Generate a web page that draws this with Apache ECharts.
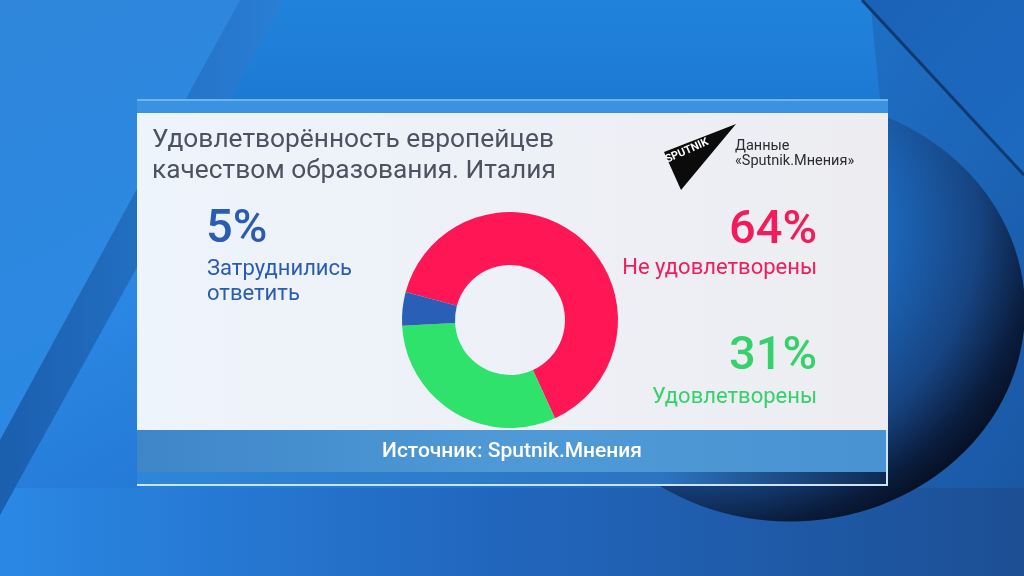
<!DOCTYPE html>
<html>
<head>
<meta charset="utf-8">
<script src="https://cdn.jsdelivr.net/npm/echarts@6/dist/echarts.min.js"></script>
<style>
html,body{margin:0;padding:0;background:#1b6cc8;}
#chart{width:1024px;height:576px;}
</style>
</head>
<body>
<div id="chart"></div>
<script>
// ---- data ----
const categories = ['Не удовлетворены', 'Удовлетворены', 'Затруднились ответить'];
const values = [64, 31, 5];
const titleLines = ['Удовлетворённость европейцев', 'качеством образования. Италия'];
const sourceText = 'Источник: Sputnik.Мнения';
const logoLines = ['Данные', '«Sputnik.Мнения»'];

// ---- styles ----
const sliceColors = ['#ff1755', '#2ee26b', '#2a5fb8'];
const textColors = ['#f31c5a', '#35d26b', '#2a5cb5'];

const chart = echarts.init(document.getElementById('chart'), null, {renderer: 'canvas'});
const F = 'Roboto, "Noto Sans", sans-serif';

const graphics = [
  // background base
  {type: 'rect', shape: {x: 0, y: 0, width: 1024, height: 576}, z: -10,
   style: {fill: new echarts.graphic.LinearGradient(0, 0, 1, 1, [
     {offset: 0, color: '#2a8de8'}, {offset: 0.5, color: '#1f7ad6'}, {offset: 1, color: '#1a55a0'}])}},
  // upper middle area
  {type: 'polygon', shape: {points: [[285, 0], [870, 0], [880, 100], [130, 100], [180, 60]]}, z: -9,
   style: {fill: new echarts.graphic.LinearGradient(0, 0, 0, 1, [
     {offset: 0, color: '#2082dc'}, {offset: 1, color: '#1d7ad4'}])}},
  // left bright area
  {type: 'polygon', shape: {points: [[0, 0], [240, 0], [0, 440]]}, z: -9,
   style: {fill: new echarts.graphic.LinearGradient(0, 0, 1, 1, [
     {offset: 0, color: '#2f86da'}, {offset: 1, color: '#2a8ae6'}])}},
  // bottom area
  {type: 'rect', shape: {x: 0, y: 488, width: 1024, height: 88}, z: -9,
   style: {fill: new echarts.graphic.LinearGradient(0, 0, 1, 0, [
     {offset: 0, color: '#2a88e4'}, {offset: 0.45, color: '#2268c0'}, {offset: 1, color: '#1c4f94'}])}},
  // lower left area
  {type: 'polygon', shape: {points: [[0, 515], [140, 262], [140, 488], [0, 488]]}, z: -8.5,
   style: {fill: new echarts.graphic.LinearGradient(0, 0, 1, 1, [
     {offset: 0, color: '#2c8eea'}, {offset: 1, color: '#2478d4'}])}},
  // dark diagonal band
  {type: 'polygon', shape: {points: [[240, 0], [285, 0], [0, 515], [0, 440]]}, z: -8,
   style: {fill: new echarts.graphic.LinearGradient(0, 0, 1, 0, [
     {offset: 0, color: '#1b5fae'}, {offset: 1, color: '#2a7fd6'}])}},
  // right dark sphere (rim only visible to the lower right)
  {type: 'circle', x: 790, y: 310, scaleY: 0.9, shape: {cx: 0, cy: 0, r: 235}, z: -6,
   style: {fill: new echarts.graphic.RadialGradient(0.3, 0.3, 0.8, [
     {offset: 0, color: '#1e78d2'}, {offset: 0.5, color: '#1c68bc'}, {offset: 0.75, color: '#174482'},
     {offset: 0.9, color: '#0a1d3e'}, {offset: 1, color: '#050d1e'}])}},
  // top right area
  {type: 'polygon', shape: {points: [[862, 0], [1024, 0], [1024, 175]]}, z: -5,
   style: {fill: new echarts.graphic.LinearGradient(0, 0, 1, 1, [
     {offset: 0, color: '#1a62b8'}, {offset: 1, color: '#1d6ac0'}])}},
  {type: 'line', shape: {x1: 862, y1: 0, x2: 1024, y2: 175}, z: -4,
   style: {stroke: '#0f3a70', lineWidth: 3}},
  // panel top strip
  {type: 'rect', shape: {x: 137, y: 99, width: 751, height: 14}, z: -2,
   style: {fill: '#3b92e0'}},
  {type: 'rect', shape: {x: 137, y: 99, width: 751, height: 2}, z: -1,
   style: {fill: '#6fb4ee'}},
  // panel body
  {type: 'rect', shape: {x: 137, y: 113, width: 751, height: 317}, z: -2,
   style: {fill: new echarts.graphic.LinearGradient(0, 0, 1, 0, [
     {offset: 0, color: '#eef4fc'}, {offset: 1, color: '#ededf1'}])}},
  // source band
  {type: 'rect', shape: {x: 137, y: 430, width: 751, height: 42}, z: -2,
   style: {fill: new echarts.graphic.LinearGradient(0, 0, 1, 0, [
     {offset: 0, color: '#3f86c9'}, {offset: 0.5, color: '#4f9ad6'}, {offset: 1, color: '#4a93d3'}])}},
  {type: 'rect', shape: {x: 137, y: 472, width: 751, height: 12}, z: -2,
   style: {fill: new echarts.graphic.LinearGradient(0, 0, 1, 0, [
     {offset: 0, color: '#2e86d8'}, {offset: 0.7, color: '#2d74c0'}, {offset: 1, color: '#0d2a52'}])}},
  {type: 'rect', shape: {x: 137, y: 484, width: 751, height: 2}, z: -1,
   style: {fill: '#cfe3f6'}},
  {type: 'rect', shape: {x: 886, y: 430, width: 2, height: 56}, z: -1,
   style: {fill: '#cfe3f6'}},
  {type: 'text', x: 512, y: 452, z: 5,
   style: {text: sourceText, fill: '#ffffff', font: '500 21px ' + F, align: 'center', verticalAlign: 'middle'}},
  // title
  {type: 'text', x: 152, y: 140, z: 5,
   style: {text: titleLines[0], fill: '#4c5260', font: '26.3px ' + F, verticalAlign: 'middle'}},
  {type: 'text', x: 152, y: 171, z: 5,
   style: {text: titleLines[1], fill: '#4c5260', font: '26.3px ' + F, verticalAlign: 'middle'}},
  // logo
  {type: 'polygon', shape: {points: [[736, 124], [664, 152], [681, 190]]}, z: 5, style: {fill: '#0b0b0b'}},
  {type: 'text', x: 687, y: 151, rotation: 0.42, z: 6,
   style: {text: 'SPUTNIK', fill: '#ffffff', font: 'bold 11px ' + F, align: 'center', verticalAlign: 'middle'}},
  {type: 'text', x: 735, y: 146, z: 5,
   style: {text: logoLines[0], fill: '#2c2c2c', font: '14.5px ' + F, verticalAlign: 'middle'}},
  {type: 'text', x: 735, y: 161, z: 5,
   style: {text: logoLines[1], fill: '#2c2c2c', font: '14.5px ' + F, verticalAlign: 'middle'}},
  // blue (5%) annotation
  {type: 'text', x: 206, y: 230, z: 5,
   style: {text: values[2] + '%', fill: textColors[2], font: '500 47px ' + F, verticalAlign: 'middle'}},
  {type: 'text', x: 207, y: 269, z: 5,
   style: {text: 'Затруднились', fill: textColors[2], font: '22px ' + F, verticalAlign: 'middle'}},
  {type: 'text', x: 207, y: 294, z: 5,
   style: {text: 'ответить', fill: textColors[2], font: '22px ' + F, verticalAlign: 'middle'}},
  // red (64%)
  {type: 'text', x: 817, y: 231, z: 5,
   style: {text: values[0] + '%', fill: textColors[0], font: '500 47px ' + F, align: 'right', verticalAlign: 'middle'}},
  {type: 'text', x: 817, y: 268, z: 5,
   style: {text: categories[0], fill: textColors[0], font: '22px ' + F, align: 'right', verticalAlign: 'middle'}},
  // green (31%)
  {type: 'text', x: 817, y: 357, z: 5,
   style: {text: values[1] + '%', fill: textColors[1], font: '500 47px ' + F, align: 'right', verticalAlign: 'middle'}},
  {type: 'text', x: 817, y: 397, z: 5,
   style: {text: categories[1], fill: textColors[1], font: '22px ' + F, align: 'right', verticalAlign: 'middle'}}
];

chart.setOption({
  animation: false,
  graphic: graphics,
  series: [{
    type: 'pie',
    center: [510, 320],
    radius: [55, 108],
    startAngle: 165,
    clockwise: true,
    label: {show: false},
    labelLine: {show: false},
    silent: true,
    z: 10,
    data: categories.map((c, i) => ({name: c, value: values[i], itemStyle: {color: sliceColors[i]}}))
  }]
});
</script>
</body>
</html>
